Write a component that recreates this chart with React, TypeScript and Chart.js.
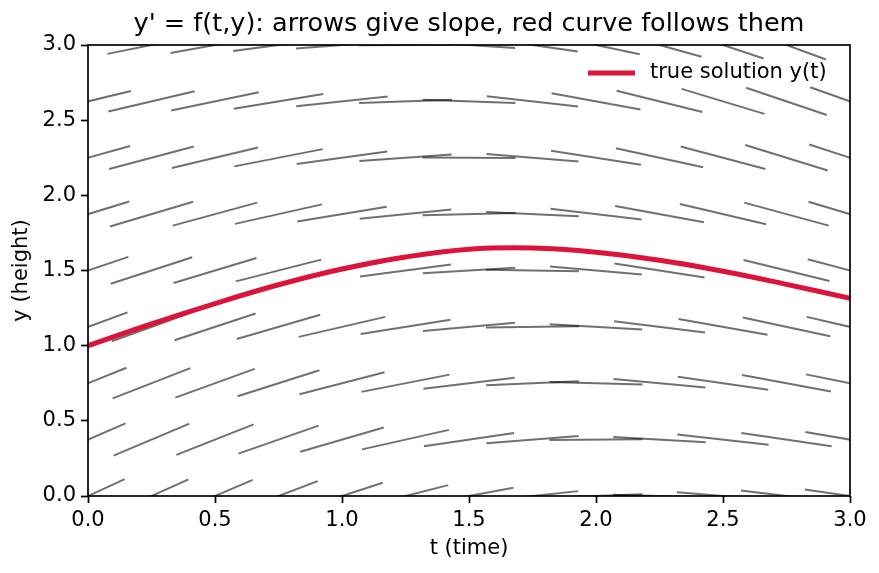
import { useEffect, useRef } from 'react';
import { Chart, registerables } from 'chart.js';

Chart.register(...registerables);

const titleText = "y' = f(t,y): arrows give slope, red curve follows them";
const xTitle = 't (time)';
const yTitle = 'y (height)';
const curveLabel = 'true solution y(t)';

// Sample points of the direction field
const tGrid = [0, 0.25, 0.5, 0.75, 1.0, 1.25, 1.5, 1.75, 2.0, 2.25, 2.5, 2.75, 3.0];
const yGrid = [0, 0.375, 0.75, 1.125, 1.5, 1.875, 2.25, 2.625, 3.0];

// Slope y' at each (t, y): one row per yGrid value, one column per tGrid value
const slopeRows = [
  [0.78, 0.76, 0.72, 0.64, 0.55, 0.43, 0.31, 0.18, 0.06, -0.05, -0.14, -0.20, -0.24],
  [0.73, 0.71, 0.67, 0.59, 0.49, 0.38, 0.25, 0.13, 0.01, -0.10, -0.19, -0.25, -0.29],
  [0.68, 0.66, 0.61, 0.54, 0.44, 0.33, 0.20, 0.07, -0.05, -0.16, -0.24, -0.31, -0.34],
  [0.62, 0.61, 0.56, 0.49, 0.39, 0.27, 0.15, 0.02, -0.10, -0.21, -0.30, -0.36, -0.39],
  [0.57, 0.55, 0.51, 0.43, 0.34, 0.22, 0.10, -0.03, -0.15, -0.26, -0.35, -0.41, -0.45],
  [0.52, 0.50, 0.46, 0.38, 0.28, 0.17, 0.04, -0.08, -0.20, -0.31, -0.40, -0.46, -0.50],
  [0.47, 0.45, 0.40, 0.33, 0.23, 0.12, -0.01, -0.14, -0.26, -0.37, -0.45, -0.52, -0.55],
  [0.41, 0.40, 0.35, 0.28, 0.18, 0.06, -0.06, -0.19, -0.31, -0.42, -0.51, -0.57, -0.60],
  [0.36, 0.34, 0.30, 0.22, 0.13, 0.01, -0.11, -0.24, -0.36, -0.47, -0.56, -0.62, -0.66],
];

// The solution curve y(t) starting at y(0) = 1
const curveT = [0, 0.25, 0.5, 0.75, 1.0, 1.25, 1.5, 1.75, 2.0, 2.25, 2.5, 2.75, 3.0];
const curveY = [1.0, 1.145, 1.28, 1.405, 1.51, 1.59, 1.642, 1.65, 1.622, 1.568, 1.495, 1.408, 1.315];

const xTickValues = [0, 0.5, 1.0, 1.5, 2.0, 2.5, 3.0];
const xTickLabels = ['0.0', '0.5', '1.0', '1.5', '2.0', '2.5', '3.0'];
const yTickValues = [0, 0.5, 1.0, 1.5, 2.0, 2.5, 3.0];
const yTickLabels = ['0.0', '0.5', '1.0', '1.5', '2.0', '2.5', '3.0'];

const FONT = 'DejaVu Sans';
const SEG_HALF = 0.183; // half length of each slope mark, in data units
const CURVE_COLOR = '#dc143c';

export default function App() {
  const canvasRef = useRef<HTMLCanvasElement | null>(null);

  useEffect(() => {
    const canvas = canvasRef.current;
    if (!canvas) return;

    const segmentSets: any[] = [];
    yGrid.forEach((y, j) => {
      tGrid.forEach((t, i) => {
        const m = slopeRows[j][i];
        const dt = SEG_HALF / Math.sqrt(1 + m * m);
        segmentSets.push({
          label: '',
          data: [
            { x: t - dt, y: y - m * dt },
            { x: t + dt, y: y + m * dt },
          ],
          showLine: true,
          borderColor: 'rgba(0,0,0,0.56)',
          borderWidth: 2,
          borderCapStyle: 'butt',
          pointRadius: 0,
          clip: 0,
        });
      });
    });

    const curveSet = {
      label: curveLabel,
      data: curveT.map((t, i) => ({ x: t, y: curveY[i] })),
      showLine: true,
      borderColor: CURVE_COLOR,
      backgroundColor: CURVE_COLOR,
      borderWidth: 5,
      tension: 0.4,
      pointRadius: 0,
      clip: 0,
    };

    const frameAndLegend = {
      id: 'frameAndLegend',
      afterDatasetsDraw(chart: any) {
        const { ctx, chartArea: a } = chart;
        ctx.save();
        ctx.strokeStyle = '#000';
        ctx.lineWidth = 1.7;
        ctx.strokeRect(a.left, a.top, a.right - a.left, a.bottom - a.top);

        // legend entry for the solution curve
        const ly = a.top + 28;
        const lx = a.right - 262;
        ctx.strokeStyle = CURVE_COLOR;
        ctx.lineWidth = 5;
        ctx.lineCap = 'butt';
        ctx.beginPath();
        ctx.moveTo(lx, ly);
        ctx.lineTo(lx + 47, ly);
        ctx.stroke();
        ctx.fillStyle = '#000';
        ctx.font = `21px "${FONT}"`;
        ctx.textBaseline = 'middle';
        ctx.textAlign = 'left';
        ctx.fillText(chart.data.datasets[0].label, lx + 62, ly);
        ctx.restore();
      },
    };

    const tickFont = { family: FONT, size: 21 };

    const chart = new Chart(canvas, {
      type: 'scatter',
      data: { datasets: [curveSet, ...segmentSets] },
      options: {
        animation: false,
        responsive: false,
        devicePixelRatio: 1,
        events: [],
        layout: { padding: { left: 0, right: 29, top: 0, bottom: 0 } },
        plugins: {
          legend: { display: false },
          tooltip: { enabled: false },
          title: {
            display: true,
            text: titleText,
            fullSize: false,
            color: '#000',
            font: { family: FONT, size: 25.5, weight: 'normal' },
            padding: { top: 8.7, bottom: 5.7 },
          },
        },
        scales: {
          x: {
            type: 'linear',
            min: 0,
            max: 3,
            afterBuildTicks: (s: any) => {
              s.ticks = xTickValues.map((v) => ({ value: v }));
            },
            ticks: {
              font: tickFont,
              color: '#000',
              padding: 5,
              maxRotation: 0,
              autoSkip: false,
              callback: (v: any) => xTickLabels[xTickValues.indexOf(Number(v))] ?? '',
            },
            grid: { drawOnChartArea: false, tickLength: 7, tickColor: '#000', tickWidth: 1.7 },
            border: { display: false },
            title: {
              display: true,
              text: xTitle,
              color: '#000',
              font: tickFont,
              padding: { top: 0, bottom: 12 },
            },
            afterFit: (s: any) => {
              s.height = 77;
            },
          },
          y: {
            type: 'linear',
            min: 0,
            max: 3,
            afterBuildTicks: (s: any) => {
              s.ticks = yTickValues.map((v) => ({ value: v }));
            },
            ticks: {
              font: tickFont,
              color: '#000',
              padding: 5,
              autoSkip: false,
              callback: (v: any) => yTickLabels[yTickValues.indexOf(Number(v))] ?? '',
            },
            grid: { drawOnChartArea: false, tickLength: 7, tickColor: '#000', tickWidth: 1.7 },
            border: { display: false },
            title: {
              display: true,
              text: yTitle,
              color: '#000',
              font: tickFont,
              padding: { top: 9.4, bottom: 0 },
            },
            afterFit: (s: any) => {
              s.width = 88;
            },
          },
        },
      } as any,
      plugins: [frameAndLegend],
    });

    return () => chart.destroy();
  }, []);

  return (
    <div style={{ position: 'absolute', left: 0, top: 0, width: 879, height: 573, background: '#fff' }}>
      <canvas ref={canvasRef} width={879} height={573} />
    </div>
  );
}
